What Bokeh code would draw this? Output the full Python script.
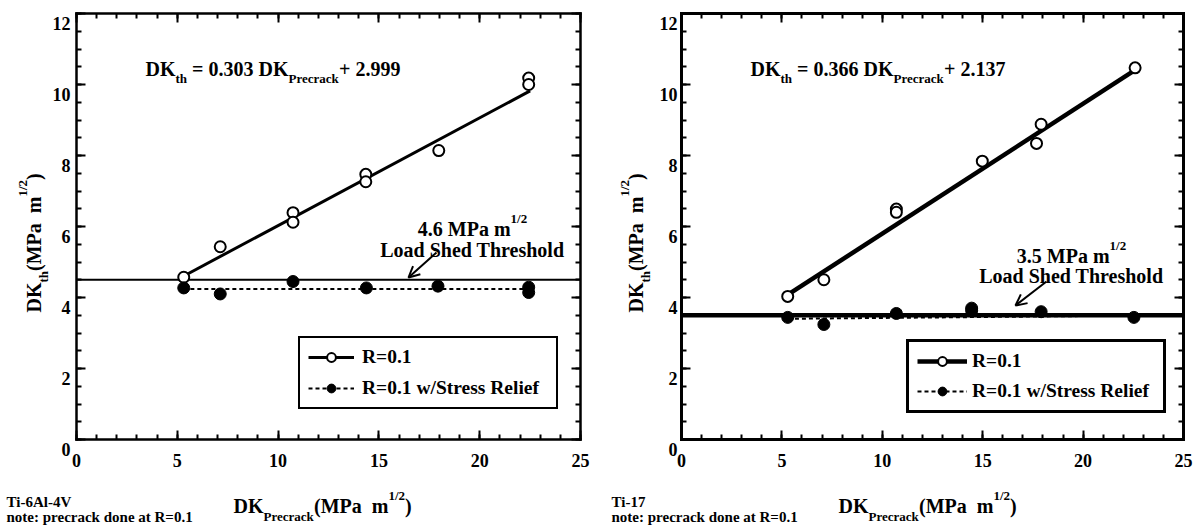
import math
from bokeh.plotting import figure
from bokeh.layouts import row
from bokeh.models import (Range1d, FixedTicker, LinearAxis, Label, Arrow,
                          OpenHead, Legend, LegendItem)
from bokeh.embed import file_html
from bokeh.resources import INLINE

FONT = "Liberation Serif"
NB = "\u00a0"

# ---------------- axis ticks ----------------
x_ticks = [0, 5, 10, 15, 20, 25]
y_ticks = [0, 2, 4, 6, 8, 10, 12]
x_minor = [i for i in range(0, 26)]
y_minor = [i * 0.5 for i in range(0, 25)]

# ---------------- Ti-6Al-4V (left) ----------------
ti64_r01_x = [5.32, 7.13, 10.74, 10.74, 14.35, 14.35, 17.97, 22.43, 22.43]
ti64_r01_y = [4.57, 5.43, 6.39, 6.12, 7.47, 7.26, 8.14, 10.18, 10.00]
ti64_sr_x = [5.32, 7.13, 10.74, 14.38, 17.93, 22.43, 22.43]
ti64_sr_y = [4.27, 4.10, 4.45, 4.27, 4.32, 4.29, 4.14]
ti64_fit_x = [5.3, 22.5]
ti64_fit_y = [4.60, 9.82]
ti64_sr_fit_x = [5.3, 22.5]
ti64_sr_fit_y = [4.24, 4.24]
ti64_threshold = 4.5

# ---------------- Ti-17 (right) ----------------
ti17_r01_x = [5.29, 7.09, 10.70, 10.70, 14.98, 17.68, 17.91, 22.59]
ti17_r01_y = [4.03, 4.50, 6.49, 6.40, 7.84, 8.34, 8.88, 10.47]
ti17_sr_x = [5.29, 7.09, 10.70, 14.45, 14.45, 17.91, 22.53]
ti17_sr_y = [3.44, 3.24, 3.55, 3.70, 3.63, 3.60, 3.44]
ti17_fit_x = [5.3, 22.6]
ti17_fit_y = [4.08, 10.41]
ti17_sr_fit_x = [5.3, 22.5]
ti17_sr_fit_y = [3.40, 3.49]
ti17_threshold = 3.5

legend_labels = ["R=0.1", "R=0.1 w/Stress Relief"]

# Times-Bold advance widths (per 1000 em) for text layout
TB = {' ': 250, NB: 250, '(': 333, ')': 333, '+': 570, '.': 250, '/': 278, '=': 570,
      '-': 333, ':': 333, 'A': 722, 'D': 722, 'K': 778, 'L': 667, 'M': 944, 'P': 611,
      'R': 722, 'S': 556, 'T': 667, 'V': 722, 'a': 500, 'c': 444, 'd': 556, 'e': 444,
      'f': 333, 'h': 556, 'i': 278, 'k': 556, 'l': 278, 'm': 833, 'n': 556, 'o': 500,
      'p': 556, 'r': 444, 's': 389, 't': 333, 'w': 722}

PAGE_Y0 = 0      # canvas top on the page
FIG_H = 525


def tw(s, size):
    return sum(TB.get(c, 500) for c in s) * size / 1000.0


class Geo:
    """page-pixel -> data conversion for one panel (frame = whole canvas)"""
    def __init__(self, fig_left, fig_w, frame_left, frame_w, frame_top=13, frame_h=426):
        self.fig_left = fig_left
        self.fig_w = fig_w
        self.fl = frame_left
        self.fw = frame_w
        self.fb = frame_top + frame_h
        self.fh = frame_h

    def X(self, px):
        return (px - self.fl) / self.fw * 25.0

    def Y(self, py):
        return (self.fb - py) / self.fh * 12.0

    def PY(self, v):
        return self.fb - v / 12.0 * self.fh


def rich(p, g, pieces, px, py, angle=0.0, align="left"):
    total = sum(tw(t, s) for t, s, sh in pieces)
    off = -total / 2.0 if align == "center" else 0.0
    for t, s, sh in pieces:
        if angle == 0.0:
            x, y = px + off, py + sh
        else:
            x, y = px + sh, py - off
        p.add_layout(Label(x=g.X(x), y=g.Y(y), text=t, angle=angle,
                           text_font=FONT, text_font_style="bold",
                           text_font_size=f"{s}px", text_baseline="alphabetic",
                           text_align="left", text_color="black"))
        off += tw(t, s)


def style_axis(ax, ticker, loc, bounds, labels=True, lw=2.5):
    ax.fixed_location = loc
    ax.bounds = bounds
    ax.ticker = ticker
    ax.axis_line_width = lw
    ax.axis_line_color = "black"
    ax.axis_line_cap = "square"
    ax.major_tick_in = 9
    ax.major_tick_out = 0
    ax.minor_tick_in = 5
    ax.minor_tick_out = 0
    ax.major_tick_line_width = 2
    ax.minor_tick_line_width = 2
    ax.major_tick_line_color = "black"
    ax.minor_tick_line_color = "black"
    ax.major_label_text_font = FONT
    ax.major_label_text_font_style = "bold"
    ax.major_label_text_font_size = "18px"
    ax.major_label_text_color = "black" if labels else None


def make_panel(g, data, texts, thick):
    (r_x, r_y, s_x, s_y, f_x, f_y, sf_x, sf_y, thr) = data
    p = figure(width=g.fig_w, height=FIG_H,
               x_range=Range1d(g.X(g.fig_left), g.X(g.fig_left + g.fig_w)),
               y_range=Range1d(g.Y(PAGE_Y0 + FIG_H), g.Y(PAGE_Y0)),
               output_backend="svg", toolbar_location=None,
               x_axis_location=None, y_axis_location=None,
               min_border=0)
    p.outline_line_color = None
    p.background_fill_color = "white"
    p.border_fill_color = "white"
    p.xgrid.visible = False
    p.ygrid.visible = False

    lw_frame = 3 if thick else 2.5
    xb = (x_ticks[0], x_ticks[-1])
    yb = (y_ticks[0], y_ticks[-1])
    bottom = LinearAxis()
    style_axis(bottom, FixedTicker(ticks=x_ticks, minor_ticks=x_minor), y_ticks[0], xb, True, lw_frame)
    bottom.major_label_standoff = 14
    left = LinearAxis()
    style_axis(left, FixedTicker(ticks=y_ticks, minor_ticks=y_minor), x_ticks[0], yb, False, lw_frame)
    top_ax = LinearAxis()
    style_axis(top_ax, FixedTicker(ticks=x_ticks, minor_ticks=x_minor), y_ticks[-1], xb, False, lw_frame)
    right_ax = LinearAxis()
    style_axis(right_ax, FixedTicker(ticks=y_ticks, minor_ticks=y_minor), x_ticks[-1], yb, False, lw_frame)
    p.add_layout(bottom, "below")
    p.add_layout(left, "left")
    p.add_layout(top_ax, "above")
    p.add_layout(right_ax, "right")

    # y tick labels (sitting slightly below their ticks, as in the reference)
    for v in y_ticks:
        p.add_layout(Label(x=g.X(g.fl - texts["ylab_gap"]), y=g.Y(g.PY(v) + 10), text=str(v),
                           text_font=FONT, text_font_style="bold", text_font_size="18px",
                           text_align="right", text_baseline="alphabetic",
                           text_color="black"))

    lw_main = 4.5 if thick else 3
    lw_thr = 4.5 if thick else 2
    p.line([x_ticks[0], x_ticks[-1]], [thr, thr], line_color="black", line_width=lw_thr)
    fit_r = p.line(f_x, f_y, line_color="black", line_width=lw_main)
    dash_r = p.line(sf_x, sf_y, line_color="black", line_width=2, line_dash="4 3")
    open_r = p.scatter(r_x, r_y, marker="circle", size=11, fill_color="white",
                       line_color="black", line_width=2)
    fill_r = p.scatter(s_x, s_y, marker="circle", size=12, fill_color="black",
                       line_color="black", line_width=1)

    # arrow
    ax0, ay0, ax1, ay1 = texts["arrow"]
    p.add_layout(Arrow(end=OpenHead(size=11, line_width=2, line_color="black"),
                       x_start=g.X(ax0), y_start=g.Y(ay0), x_end=g.X(ax1), y_end=g.Y(ay1),
                       line_width=2, line_color="black"))

    # legend
    lg = texts["legend"]
    legend = Legend(items=[LegendItem(label=legend_labels[0], renderers=[fit_r, open_r]),
                           LegendItem(label=legend_labels[1], renderers=[dash_r, fill_r])],
                    location=(lg["px"] - g.fig_left, PAGE_Y0 + FIG_H - lg["pbottom"]),
                    orientation="vertical",
                    border_line_color="black", border_line_width=lg["bw"],
                    border_line_alpha=1.0,
                    background_fill_color="white", background_fill_alpha=1.0,
                    padding=lg["pad"], spacing=lg["spacing"], margin=0,
                    glyph_width=lg["gw"], glyph_height=22, label_height=22,
                    label_width=lg["lw"],
                    label_standoff=lg["standoff"], label_text_font=FONT,
                    label_text_font_style="bold", label_text_font_size="19.5px",
                    label_text_color="black")
    p.add_layout(legend)

    # equation
    ex, ey = texts["eq_pos"]
    rich(p, g, [("DK", 20, 0), ("th", 13, 10), (NB + "= " + texts["slope"] + NB, 20, 0),
                ("DK", 20, 0), ("Precrack", 13, 10), ("+ " + texts["icpt"], 20, 0)], ex, ey)
    # threshold annotation
    cx, b1, b2 = texts["ann"]
    rich(p, g, [(texts["thr_txt"] + " MPa m", 20, 0), ("1/2", 13, -10)], cx, b1, align="center")
    rich(p, g, [("Load Shed Threshold", 20, 0)], cx, b2, align="center")
    # x title
    xx, xy = texts["xt"]
    rich(p, g, [("DK", 20, 0), ("Precrack", 13, 11), ("(MPa " + NB + "m", 20, 0),
                ("1/2", 13, -10), (")", 20, 0)], xx, xy)
    # y title (rotated)
    yx, yy = texts["yt"]
    rich(p, g, [("DK", 20, 0), ("th", 13, 10), ("(MPa " + NB + "m", 20, 0),
                ("1/2", 13, -11), (")", 20, 0)], yx, yy, angle=math.pi / 2)
    # notes
    nx = texts["note_x"]
    rich(p, g, [(texts["alloy"], 15, 0)], nx, 501)
    rich(p, g, [("note: precrack done at R=0.1", 15, 0)], nx, 516)
    return p


g1 = Geo(0, 600, 76, 504)
g2 = Geo(600, 600, 681, 502)

p1 = make_panel(g1,
                (ti64_r01_x, ti64_r01_y, ti64_sr_x, ti64_sr_y, ti64_fit_x, ti64_fit_y,
                 ti64_sr_fit_x, ti64_sr_fit_y, ti64_threshold),
                {"arrow": (436, 252, 408, 277), "ylab_gap": 6,
                 "legend": {"px": 298, "pbottom": 409, "bw": 2, "pad": 8, "spacing": 9,
                            "gw": 46, "standoff": 8, "lw": 186},
                 "eq_pos": (145, 68), "slope": "0.303", "icpt": "2.999",
                 "ann": (472, 228, 249), "thr_txt": "4.6",
                 "xt": (233, 505), "yt": (33, 312), "note_x": 6, "alloy": "Ti-6Al-4V"},
                thick=False)

p2 = make_panel(g2,
                (ti17_r01_x, ti17_r01_y, ti17_sr_x, ti17_sr_y, ti17_fit_x, ti17_fit_y,
                 ti17_sr_fit_x, ti17_sr_fit_y, ti17_threshold),
                {"arrow": (1046, 281, 1015, 305), "ylab_gap": 4,
                 "legend": {"px": 906, "pbottom": 413, "bw": 3, "pad": 8, "spacing": 8,
                            "gw": 50, "standoff": 5, "lw": 183},
                 "eq_pos": (750, 68), "slope": "0.366", "icpt": "2.137",
                 "ann": (1071, 255, 275), "thr_txt": "3.5",
                 "xt": (838, 505), "yt": (635, 312), "note_x": 611, "alloy": "Ti-17"},
                thick=True)

layout = row(p1, p2)
open("out.html", "w").write(file_html(layout, INLINE, "Delta K threshold"))
